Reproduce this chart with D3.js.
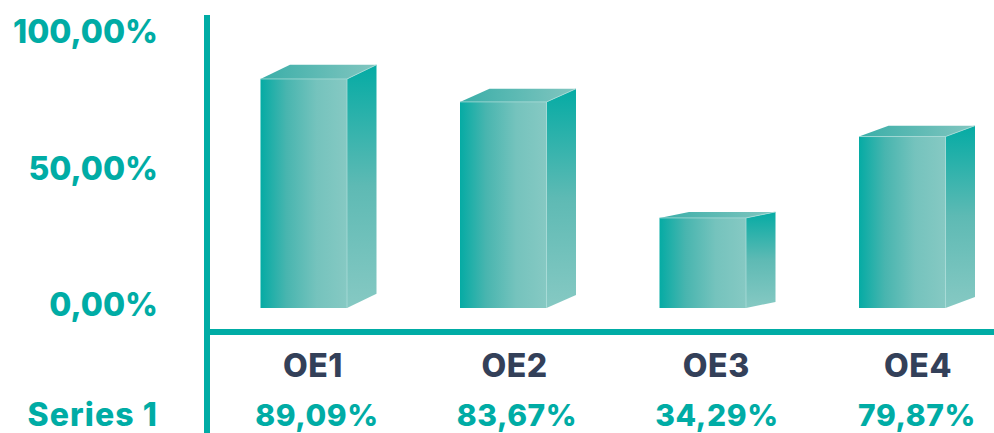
<!DOCTYPE html>
<html><head><meta charset="utf-8">
<script src="https://cdnjs.cloudflare.com/ajax/libs/d3/7.8.5/d3.min.js"></script>
<style>html,body{margin:0;padding:0;background:#fff}svg{display:block}text{font-family:Inter,sans-serif;font-weight:800}</style>
</head><body><svg width="994" height="433"></svg>
<script>
const categories = ["OE1","OE2","OE3","OE4"];
const valueLabels = ["89,09%","83,67%","34,29%","79,87%"];
const drawnHeights = [83.9,75.5,33.0,62.8];
const depths = [5.2,4.8,2.2,4.0];
const yTicks = [0,50,100];
const tickLabels = ["0,00%","50,00%","100,00%"];
const seriesName = "Series 1";

const teal="#00aca5", dark="#334059";
const svg=d3.select("svg");
const y=d3.scaleLinear().domain([0,100]).range([308,35]);
const x=d3.scaleBand().domain(categories).range([204,1002]);
const catX=d3.scalePoint().domain(categories).range([313,918]);
const valX=d3.scalePoint().domain(valueLabels).range([317,917]);
const bw=86.5, sideW=29.5;
const cx=c=>x(c)+x.bandwidth()/2;
const defs=svg.append("defs");
const grad=(id,x2,y2,stops)=>{const g=defs.append("linearGradient").attr("id",id).attr("x1",0).attr("y1",0).attr("x2",x2).attr("y2",y2);
 stops.forEach(([o,c])=>g.append("stop").attr("offset",o).attr("stop-color",c));};
grad("front",1,0,[[0,"#05aba4"],[0.3,"#48b5af"],[0.65,"#75c3bd"],[1,"#86c9c3"]]);
grad("top",1,0,[[0,"#3aaea8"],[1,"#82c6c0"]]);
grad("side",0,1,[[0,"#05aba4"],[0.5,"#5ebab4"],[1,"#86c9c3"]]);

categories.forEach((c,i)=>{
 const l=cx(c)-bw/2, r=l+bw, t=y(drawnHeights[i]), b=y(0), d=(y(0)-y(depths[i]));
 const pts=a=>a.map(p=>p.join(",")).join(" ");
 const g=svg.append("g");
 g.append("polygon").attr("points",pts([[r,t],[r+sideW,t-d],[r+sideW,b-d],[r,b]])).attr("fill","url(#side)");
 g.append("polygon").attr("points",pts([[l,t],[l+sideW,t-d],[r+sideW,t-d],[r,t]])).attr("fill","url(#top)");
 g.append("rect").attr("x",l).attr("y",t).attr("width",bw).attr("height",b-t).attr("fill","url(#front)");
 g.append("path").attr("d",`M${l},${t}H${r}V${b}M${r},${t}L${r+sideW},${t-d}`).attr("fill","none").attr("stroke","#a9dcd8").attr("stroke-width",0.8);
});

svg.append("rect").attr("x",204).attr("y",15).attr("width",6).attr("height",418).attr("fill",teal);
svg.append("rect").attr("x",210).attr("y",329).attr("width",784).attr("height",6).attr("fill",teal);

const labelY=d3.scaleLinear().domain([0,100]).range([316,43]);
svg.selectAll(".t").data(yTicks).join("text").attr("x",158).attr("y",d=>labelY(d)).attr("text-anchor","end").attr("font-size",32).attr("fill",teal).text((d,i)=>tickLabels[i]);
svg.append("text").attr("x",158).attr("y",426).attr("text-anchor","end").attr("font-size",32).attr("letter-spacing",1.1).attr("fill",teal).text(seriesName);
svg.selectAll(".c").data(categories).join("text").attr("x",d=>catX(d)).attr("y",377).attr("text-anchor","middle").attr("font-size",32).attr("letter-spacing",0.6).attr("fill",dark).text(d=>d);
svg.selectAll(".v").data(valueLabels).join("text").attr("x",d=>valX(d)).attr("y",425.5).attr("text-anchor","middle").attr("font-size",30).attr("letter-spacing",0.6).attr("fill",teal).text(d=>d);
</script></body></html>
